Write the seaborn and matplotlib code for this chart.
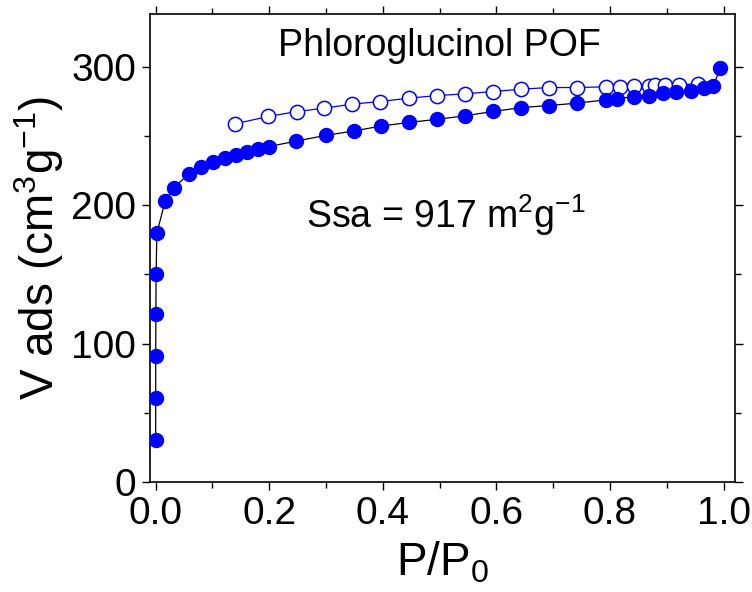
import numpy as np
import pandas as pd
import matplotlib
matplotlib.use('Agg')
import matplotlib.pyplot as plt
import seaborn as sns
from matplotlib.ticker import MultipleLocator

# Adsorption branch (filled circles)
ads_p = [0.00001, 0.00005, 0.0001, 0.0003, 0.0008, 0.002, 0.017, 0.032, 0.058, 0.080,
         0.101, 0.122, 0.141, 0.161, 0.181, 0.200, 0.247, 0.299, 0.350, 0.396,
         0.446, 0.495, 0.545, 0.594, 0.644, 0.692, 0.742, 0.792, 0.812, 0.842,
         0.868, 0.893, 0.916, 0.942, 0.966, 0.982, 0.994]
ads_v = [30.3, 60.5, 91.0, 121.2, 150.3, 179.7, 203.3, 212.6, 222.3, 227.4,
         231.4, 233.9, 236.1, 238.2, 240.4, 242.3, 246.2, 250.3, 253.6, 257.0,
         259.7, 261.9, 264.5, 267.6, 270.4, 271.9, 273.6, 276.0, 276.7, 278.4,
         279.1, 280.8, 281.6, 282.7, 284.5, 286.1, 298.9]

# Desorption branch (open circles)
des_p = [0.140, 0.198, 0.248, 0.297, 0.346, 0.395, 0.446, 0.495, 0.544, 0.594,
         0.644, 0.692, 0.742, 0.792, 0.817, 0.843, 0.868, 0.880, 0.897, 0.922, 0.954]
des_v = [258.7, 264.0, 267.5, 270.0, 272.9, 274.8, 277.2, 279.1, 280.3, 282.0,
         283.7, 284.9, 284.9, 285.4, 285.6, 286.1, 286.2, 286.4, 286.8, 286.8, 287.6]

title_text = 'Phloroglucinol POF'
ssa_text = r'Ssa = 917 m$^2$g$^{-1}$'

sns.set_style('ticks')
plt.rcParams['font.family'] = ['Liberation Sans', 'DejaVu Sans']
plt.rcParams['mathtext.fontset'] = 'custom'
plt.rcParams['mathtext.rm'] = 'Liberation Sans'
plt.rcParams['mathtext.it'] = 'Liberation Sans'
plt.rcParams['mathtext.default'] = 'regular'
plt.rcParams['text.color'] = 'black'
plt.rcParams['axes.labelcolor'] = 'black'

ads = pd.DataFrame({'p': ads_p, 'v': ads_v})
des = pd.DataFrame({'p': des_p, 'v': des_v})

fig = plt.figure(figsize=(7.52, 5.92), dpi=100)
ax = fig.add_axes([150 / 752, 110 / 592, 585 / 752, 468 / 592])

# connecting lines
sns.lineplot(data=ads, x='p', y='v', color='black', lw=0.9, ax=ax, zorder=1)
sns.lineplot(data=des, x='p', y='v', color='blue', lw=0.9, ax=ax, zorder=1)

# markers
sns.scatterplot(data=ads, x='p', y='v', color='blue', edgecolor='blue',
                s=105, linewidth=0.8, ax=ax, zorder=3)
sns.scatterplot(data=des, x='p', y='v', facecolor='white', edgecolor='blue',
                s=105, linewidth=1.1, ax=ax, zorder=2)

ax.set_xlim(-0.01, 1.02)
ax.set_ylim(0, 338)
ax.xaxis.set_major_locator(MultipleLocator(0.2))
ax.xaxis.set_minor_locator(MultipleLocator(0.1))
ax.yaxis.set_major_locator(MultipleLocator(100))
ax.yaxis.set_minor_locator(MultipleLocator(50))
ax.xaxis.set_major_formatter(plt.FormatStrFormatter('%.1f'))

ax.tick_params(which='both', direction='out', top=True, right=True,
               width=1.0, colors='black', labelsize=28, pad=4)
ax.tick_params(which='major', length=6)
ax.tick_params(which='minor', length=4)
ax.tick_params(top=True, right=True, labeltop=False, labelright=False)
for sp in ax.spines.values():
    sp.set_linewidth(1.2)
    sp.set_color('black')

ax.set_xlabel(r'P/P$_0$', fontsize=33, labelpad=6)
ax.set_ylabel(r'V ads (cm$^3$g$^{-1}$)', fontsize=33, labelpad=4)

ax.text(0.5, 315, title_text, fontsize=27, ha='center', va='center')
ax.text(0.51, 193, ssa_text, fontsize=27, ha='center', va='center')

fig.savefig('out.png', dpi=100)
